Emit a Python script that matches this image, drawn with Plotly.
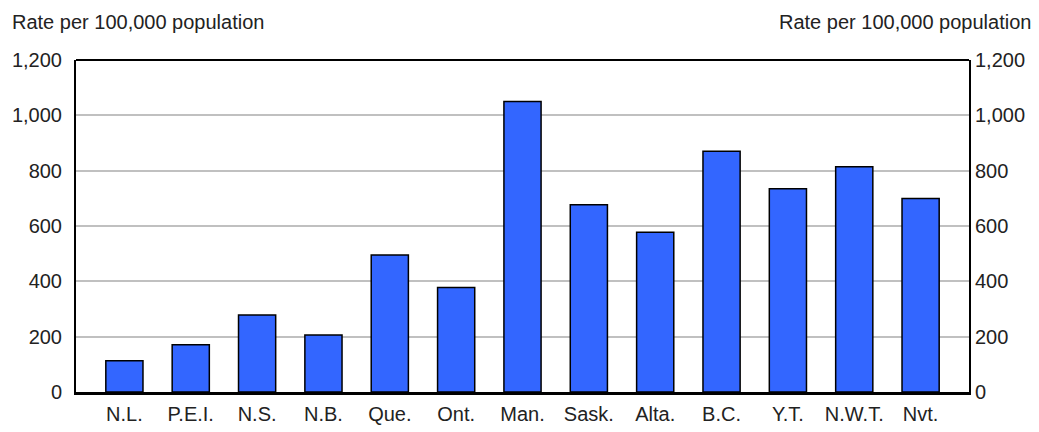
import plotly.graph_objects as go

categories = ["N.L.", "P.E.I.", "N.S.", "N.B.", "Que.", "Ont.", "Man.", "Sask.", "Alta.", "B.C.", "Y.T.", "N.W.T.", "Nvt."]
rates = [113, 171, 278, 206, 495, 378, 1050, 677, 577, 870, 735, 814, 699]
y_ticks = [0, 200, 400, 600, 800, 1000, 1200]
axis_title = "Rate per 100,000 population"

FONT = "Liberation Sans, Arial, sans-serif"
TXT = "#222222"
PW = 1039 - 76 - 70

fig = go.Figure()
fig.add_trace(go.Bar(
    x=categories, y=rates,
    marker=dict(color="#3366FF", line=dict(color="black", width=1.5)),
    hoverinfo="x+y", showlegend=False,
))
fig.add_trace(go.Scatter(
    x=categories, y=rates, yaxis="y2", mode="markers",
    marker=dict(opacity=0), hoverinfo="skip", showlegend=False,
))

fig.update_layout(
    width=1039, height=432,
    margin=dict(l=76, r=70, t=60, b=40, autoexpand=False),
    paper_bgcolor="white", plot_bgcolor="white",
    bargap=0.44,
    font=dict(family=FONT, size=20, color=TXT),
    xaxis=dict(
        showline=True, linecolor="black", linewidth=3,
        ticks="", showgrid=False, automargin=False,
        tickfont=dict(family=FONT, size=20, color=TXT),
        ticklabelstandoff=2,
    ),
    yaxis=dict(
        range=[0, 1200], tickvals=y_ticks, tickformat=",",
        showline=True, linecolor="black", linewidth=2,
        showgrid=True, gridcolor="#C0C0C0", gridwidth=1.5,
        zeroline=False, ticks="", automargin=False,
        tickfont=dict(family=FONT, size=20, color=TXT),
        ticklabelstandoff=8,
    ),
    yaxis2=dict(
        range=[0, 1200], tickvals=y_ticks, tickformat=",",
        overlaying="y", side="right",
        showline=True, linecolor="black", linewidth=2,
        showgrid=False, zeroline=False, ticks="", automargin=False,
        tickfont=dict(family=FONT, size=20, color=TXT),
        ticklabelstandoff=0,
    ),
    shapes=[dict(type="line", xref="paper", yref="paper", x0=0, x1=1, y0=1, y1=1,
                 line=dict(color="black", width=2))],
    annotations=[
        dict(text=axis_title, xref="paper", yref="paper", x=-66/PW, y=1, yshift=38,
             xanchor="left", yanchor="middle", showarrow=False,
             font=dict(family=FONT, size=20, color=TXT)),
        dict(text=axis_title, xref="paper", yref="paper", x=1 + 64/PW, y=1, yshift=38,
             xanchor="right", yanchor="middle", showarrow=False,
             font=dict(family=FONT, size=20, color=TXT)),
    ],
)

fig.write_html("out.html", config={"displayModeBar": False},
               post_script="document.body.style.margin='0';")
